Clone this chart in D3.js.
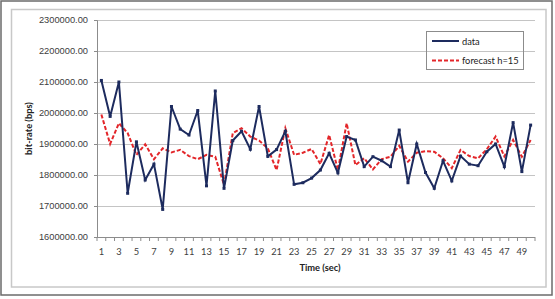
<!DOCTYPE html>
<html>
<head>
<meta charset="utf-8">
<title>bit-rate forecast</title>
<style>
  body { margin: 0; background: #fff; }
  svg { display: block; font-family: Lato, "Open Sans", sans-serif; }
</style>
</head>
<body>
<svg id="chart" width="555" height="299"></svg>
<script src="https://cdn.jsdelivr.net/npm/d3@7"></script>
<script>
// time axis, seconds 1..50
var seconds = d3.range(1, 51);
var yTicks = [1600000, 1700000, 1800000, 1900000, 2000000, 2100000, 2200000, 2300000];

// measured bit-rate (bps)
var dataSeries = [2105000, 1989000, 2100000, 1741000, 1907000, 1784000, 1835000, 1689000, 2021000, 1948000,
                  1929000, 2008000, 1765000, 2071000, 1757000, 1911000, 1941000, 1883000, 2021000, 1860000,
                  1882000, 1941000, 1770000, 1775000, 1790000, 1816000, 1870000, 1807000, 1924000, 1913000,
                  1827000, 1859000, 1846000, 1827000, 1945000, 1775000, 1900000, 1808000, 1757000, 1846000,
                  1781000, 1861000, 1835000, 1830000, 1875000, 1900000, 1827000, 1969000, 1811000, 1961000];

// forecast h=15
var forecastSeries = [1995000, 1900000, 1967000, 1935000, 1865000, 1899000, 1851000, 1886000, 1873000, 1881000,
                      1861000, 1851000, 1865000, 1859000, 1768000, 1935000, 1951000, 1924000, 1911000, 1886000,
                      1816000, 1951000, 1865000, 1872000, 1884000, 1835000, 1929000, 1816000, 1967000, 1832000,
                      1854000, 1818000, 1851000, 1859000, 1894000, 1843000, 1872000, 1877000, 1875000, 1854000,
                      1822000, 1881000, 1861000, 1854000, 1883000, 1924000, 1860000, 1913000, 1859000, 1913000];

var svg = d3.select("#chart");
var plotL = 97, plotR = 535, plotT = 20, plotB = 237;

// frames
svg.append("rect").attr("x", 1).attr("y", 1).attr("width", 551).attr("height", 294)
   .attr("fill", "none").attr("stroke", "#6b6b6b").attr("stroke-width", 1.5);
svg.append("rect").attr("x", 11.5).attr("y", 9.5).attr("width", 534.5).attr("height", 277.5)
   .attr("fill", "none").attr("stroke", "#c8c8c8").attr("stroke-width", 1.5);

var x = d3.scaleBand().domain(seconds).range([plotL, plotR]);
var y = d3.scaleLinear().domain([1600000, 2300000]).range([plotB, plotT]);

// gridlines
svg.append("g").selectAll("line").data(yTicks.slice(1)).join("line")
   .attr("x1", plotL).attr("x2", plotR)
   .attr("y1", function(d){ return Math.round(y(d)) + 0.5; })
   .attr("y2", function(d){ return Math.round(y(d)) + 0.5; })
   .attr("stroke", "#c4c4c4").attr("stroke-width", 1);

// y axis
var yAxis = svg.append("g").attr("transform", "translate(" + plotL + ",0)")
   .call(d3.axisLeft(y).tickValues(yTicks).tickSize(3).tickPadding(6)
         .tickFormat(function(d){ return d3.format(".2f")(d); }));
yAxis.selectAll("path, line").attr("stroke", "#8c8c8c");
yAxis.selectAll("text").attr("fill", "#404040").attr("font-size", "9.3px");

// x axis: ticks between categories, labels on odd seconds
var xAxis = svg.append("g").attr("transform", "translate(0," + plotB + ")");
xAxis.append("line").attr("x1", plotL).attr("x2", plotR).attr("y1", 0.5).attr("y2", 0.5).attr("stroke", "#8c8c8c");
xAxis.selectAll("line.tk").data(seconds.concat([51])).join("line").attr("class", "tk")
   .attr("x1", function(d){ return d === 51 ? plotR : x(d); })
   .attr("x2", function(d){ return d === 51 ? plotR : x(d); })
   .attr("y1", 0).attr("y2", 4).attr("stroke", "#8c8c8c");
xAxis.selectAll("text").data(seconds.filter(function(d){ return d % 2 === 1; })).join("text")
   .attr("x", function(d){ return x(d) + x.bandwidth() / 2; })
   .attr("y", 18).attr("text-anchor", "middle")
   .attr("fill", "#404040").attr("font-size", "9.3px").text(function(d){ return d; });

// axis titles
svg.append("text").attr("x", 320).attr("y", 271).attr("text-anchor", "middle")
   .attr("font-size", "9.3px").attr("font-weight", "bold").attr("fill", "#222").text("Time (sec)");
svg.append("text").attr("transform", "translate(32," + ((plotT + plotB) / 2) + ") rotate(-90)")
   .attr("text-anchor", "middle").attr("font-size", "9.3px").attr("font-weight", "bold")
   .attr("fill", "#222").text("bit-rate (bps)");

var cx = function(d, i){ return x(seconds[i]) + x.bandwidth() / 2; };
var line = d3.line().x(cx).y(function(d){ return y(d); });

svg.append("path").datum(forecastSeries).attr("d", line)
   .attr("fill", "none").attr("stroke", "#e3262a").attr("stroke-width", 2).attr("stroke-dasharray", "4,2");

svg.append("path").datum(dataSeries).attr("d", line)
   .attr("fill", "none").attr("stroke", "#1d2b5e").attr("stroke-width", 2);
svg.append("g").selectAll("rect").data(dataSeries).join("rect")
   .attr("x", function(d, i){ return cx(d, i) - 1.5; })
   .attr("y", function(d){ return y(d) - 1.5; })
   .attr("width", 3).attr("height", 3).attr("fill", "#1d2b5e");

// legend
var lg = svg.append("g");
lg.append("rect").attr("x", 426.5).attr("y", 31.5).attr("width", 97).attr("height", 38)
  .attr("fill", "none").attr("stroke", "#8c8c8c");
lg.append("line").attr("x1", 432).attr("x2", 459).attr("y1", 41).attr("y2", 41)
  .attr("stroke", "#1d2b5e").attr("stroke-width", 2);
lg.append("line").attr("x1", 432).attr("x2", 459).attr("y1", 60.5).attr("y2", 60.5)
  .attr("stroke", "#e3262a").attr("stroke-width", 2).attr("stroke-dasharray", "4,2");
lg.append("text").attr("x", 462).attr("y", 44.5).attr("font-size", "9.3px").attr("fill", "#222").text("data");
lg.append("text").attr("x", 462).attr("y", 64).attr("font-size", "9.3px").attr("fill", "#222").text("forecast h=15");
</script>
</body>
</html>
